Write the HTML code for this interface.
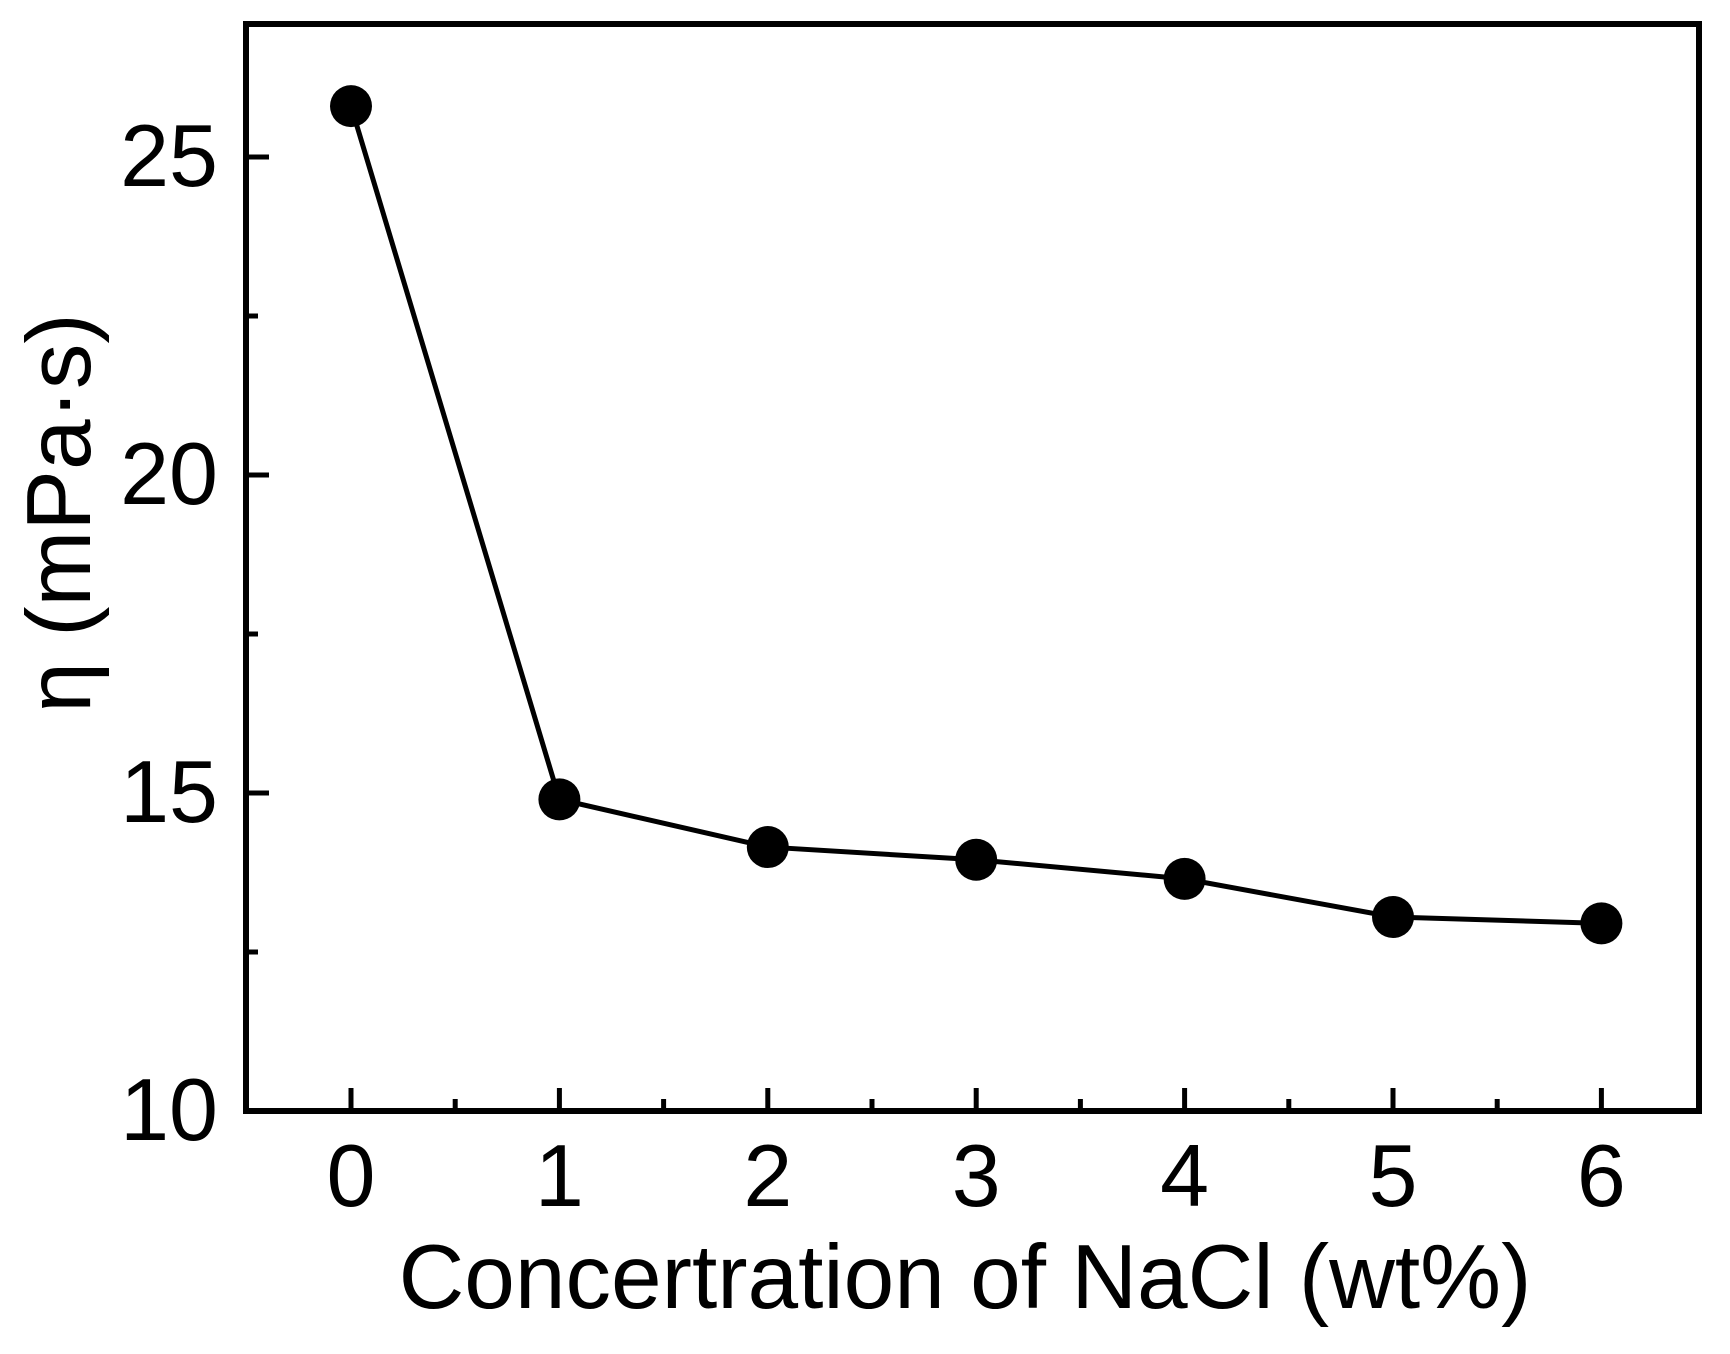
<!DOCTYPE html>
<html><head><meta charset="utf-8"><style>
html,body{margin:0;padding:0;background:#fff;}
svg{display:block;font-family:"Liberation Sans",Arial,sans-serif;}
</style></head><body>
<svg id="chart" width="1730" height="1354" viewBox="0 0 1730 1354" xmlns="http://www.w3.org/2000/svg">
<g id="axes"></g>
<g id="series"></g>
<text x="965" y="1308" font-size="91" text-anchor="middle" fill="#000">Concertration of NaCl (wt%)</text>
<text transform="translate(90,513) rotate(-90)" font-size="91" text-anchor="middle" fill="#000">η (mPa·s)</text>
</svg>
<script>
const categories = [0,1,2,3,4,5,6];
const viscosity = [25.8,14.9,14.15,13.95,13.65,13.05,12.95];
const xTickLabels = ["0","1","2","3","4","5","6"];
const yTickValues = [10,15,20,25];

const L=246,R=1699,T=24,B=1111;
const xScale=v=>351+v*208.4;
const yScale=v=>B-(v-10)*63.6;
const NS="http://www.w3.org/2000/svg";
const axes=document.getElementById('axes');
const series=document.getElementById('series');
function mk(tag,attrs,parent){const e=document.createElementNS(NS,tag);for(const k in attrs)e.setAttribute(k,attrs[k]);parent.appendChild(e);return e;}

const frame=mk('rect',{x:L,y:T,width:R-L,height:B-T,fill:'none',stroke:'#000','stroke-width':6},axes);



categories.forEach((c,i)=>{
  const x=xScale(c);
  const t=mk('line',{x1:x,x2:x,y1:B,y2:B-23,stroke:'#000','stroke-width':5},axes);
  
  
  const lb=mk('text',{x:x,y:1206,'font-size':88,'text-anchor':'middle',fill:'#000'},axes);
  lb.textContent=xTickLabels[i];
  
  
  if(i<categories.length-1){
    const xm=xScale(c+0.5);
    const m=mk('line',{x1:xm,x2:xm,y1:B,y2:B-12,stroke:'#000','stroke-width':5},axes);
    
    
  }
});
yTickValues.forEach(v=>{
  const y=yScale(v);
  const t=mk('line',{x1:L,x2:L+23,y1:y,y2:y,stroke:'#000','stroke-width':5},axes);
  
  
  const lb=mk('text',{x:218,y:y+29,'font-size':88,'text-anchor':'end',fill:'#000'},axes);
  lb.textContent=String(v);
  
  
});
[12.5,17.5,22.5,27.5].forEach(v=>{
  if(yScale(v)<T)return;
  const y=yScale(v);
  const m=mk('line',{x1:L,x2:L+12,y1:y,y2:y,stroke:'#000','stroke-width':5},axes);
  
  
});

const pts=categories.map((c,i)=>xScale(c)+','+yScale(viscosity[i])).join(' ');
const line=mk('polyline',{points:pts,fill:'none',stroke:'#000','stroke-width':5},series);


categories.forEach((c,i)=>{
  const p=mk('circle',{cx:xScale(c),cy:yScale(viscosity[i]),r:21,fill:'#000'},series);
  
  
});
</script>
</body></html>
